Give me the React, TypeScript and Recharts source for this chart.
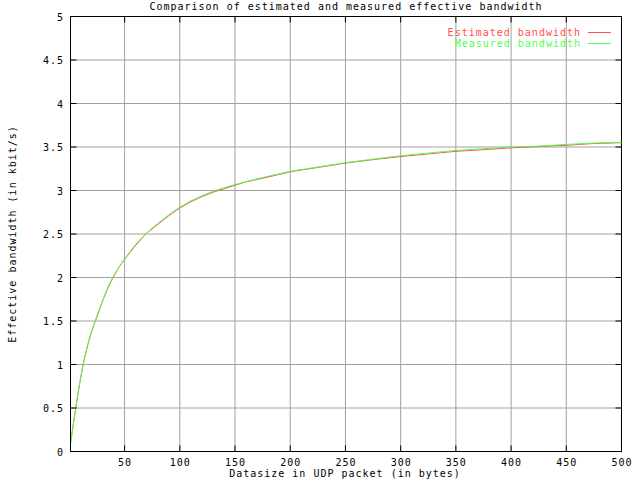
import React from 'react';
import { LineChart, Line, XAxis, YAxis, CartesianGrid, ReferenceArea, Legend } from 'recharts';

const titleText = 'Comparison of estimated and measured effective bandwidth';
const xLabelText = 'Datasize in UDP packet (in bytes)';
const yLabelText = 'Effective bandwidth (in kbit/s)';
const seriesNames = ['Estimated bandwidth', 'Measured bandwidth'];

const sizes = [1, 2, 3, 4, 5, 6, 7, 8, 10, 12, 14, 16, 18, 20, 22, 25, 28, 30, 33, 36, 40, 45, 50, 55, 60, 65, 70, 75, 80, 90, 100, 110, 120, 130, 140, 150, 160, 175, 200, 225, 250, 275, 300, 325, 350, 375, 400, 425, 450, 475, 500];
const estimated = [0.09, 0.18, 0.27, 0.36, 0.44, 0.52, 0.6, 0.68, 0.83, 0.97, 1.09, 1.19, 1.29, 1.37, 1.45, 1.55, 1.66, 1.73, 1.82, 1.91, 2.01, 2.12, 2.21, 2.29, 2.37, 2.44, 2.51, 2.56, 2.61, 2.71, 2.80, 2.87, 2.93, 2.98, 3.02, 3.06, 3.10, 3.14, 3.215, 3.265, 3.315, 3.355, 3.39, 3.42, 3.45, 3.47, 3.49, 3.505, 3.52, 3.54, 3.55];
const measured = [0.09, 0.17, 0.26, 0.35, 0.43, 0.52, 0.6, 0.69, 0.84, 0.97, 1.09, 1.20, 1.30, 1.38, 1.45, 1.56, 1.67, 1.73, 1.83, 1.92, 2.02, 2.12, 2.21, 2.30, 2.38, 2.45, 2.51, 2.57, 2.62, 2.72, 2.81, 2.88, 2.94, 2.99, 3.03, 3.07, 3.10, 3.15, 3.22, 3.27, 3.32, 3.36, 3.40, 3.43, 3.46, 3.48, 3.50, 3.51, 3.53, 3.545, 3.555];
const xTicks = [50, 100, 150, 200, 250, 300, 350, 400, 450, 500];
const yTicks = [0, 0.5, 1, 1.5, 2, 2.5, 3, 3.5, 4, 4.5, 5];

const data = sizes.map((s, i) => ({ size: s, estimated: estimated[i], measured: measured[i] }));

const FONT = '"DejaVu Sans Mono", "Liberation Mono", monospace';
const RED = '#ff5050';
const GREEN = '#50ff50';
const PLOT_LEFT = 70.5;
const PLOT_RIGHT = 621.5;
const PLOT_TOP = 16.5;
const PLOT_BOTTOM = 451.5;
const TICK = 6;

const textStyle = { fontFamily: FONT, fontSize: 10, letterSpacing: 1 } as const;

const XTick = (props: any) => {
  const { x, payload } = props;
  return (
    <g>
      <line x1={x} x2={x} y1={PLOT_BOTTOM} y2={PLOT_BOTTOM - TICK} stroke="#000" />
      <line x1={x} x2={x} y1={PLOT_TOP} y2={PLOT_TOP + TICK} stroke="#000" />
      <text x={x + 0.5} y={466} textAnchor="middle" fill="#000" style={textStyle}>{payload.value}</text>
    </g>
  );
};

const YTick = (props: any) => {
  const { y, payload } = props;
  return (
    <g>
      <line x1={PLOT_LEFT} x2={PLOT_LEFT + TICK} y1={y} y2={y} stroke="#000" />
      <line x1={PLOT_RIGHT} x2={PLOT_RIGHT - TICK} y1={y} y2={y} stroke="#000" />
      <text x={64} y={y + 4} textAnchor="end" fill="#000" style={textStyle}>{String(payload.value)}</text>
    </g>
  );
};

const YLabel = () => (
  <text x={16} y={234} transform="rotate(-90 16 234)" textAnchor="middle" fill="#000" style={textStyle}>{yLabelText}</text>
);

const XLabel = () => (
  <text x={345} y={477} textAnchor="middle" fill="#000" style={textStyle}>{xLabelText}</text>
);

const LegendContent = () => (
  <svg width={640} height={60} style={{ position: 'absolute', left: 0, top: 0, overflow: 'visible', pointerEvents: 'none' }}>
    <text x={581} y={36} textAnchor="end" fill={RED} style={textStyle}>{seriesNames[0]}</text>
    <line x1={588} x2={611} y1={32.5} y2={32.5} stroke={RED} />
    <text x={581} y={47} textAnchor="end" fill={GREEN} style={textStyle}>{seriesNames[1]}</text>
    <line x1={588} x2={611} y1={43.5} y2={43.5} stroke={GREEN} />
  </svg>
);

export default function App() {
  return (
    <div style={{ position: 'absolute', left: 0, top: 0, width: 640, height: 480, background: '#fff' }}>
      <LineChart
        width={640}
        height={480}
        data={data}
        margin={{ top: PLOT_TOP, right: 640 - PLOT_RIGHT, bottom: 0, left: 0.5 }}
      >
        <CartesianGrid stroke="#a0a0a0" strokeWidth={1} vertical horizontal />
        <XAxis
          dataKey="size"
          type="number"
          domain={[1, 500]}
          ticks={xTicks}
          height={480 - PLOT_BOTTOM}
          axisLine={{ stroke: '#000' }}
          tickLine={false}
          tick={<XTick />}
          interval={0}
          label={<XLabel />}
        />
        <YAxis
          type="number"
          domain={[0, 5]}
          ticks={yTicks}
          width={70}
          axisLine={{ stroke: '#000' }}
          tickLine={false}
          tick={<YTick />}
          interval={0}
          label={<YLabel />}
        />
        <ReferenceArea x1={1} x2={500} y1={0} y2={5} fill="none" fillOpacity={0} stroke="#000" strokeOpacity={1} strokeWidth={1} />
        <Legend
          content={<LegendContent />}
          wrapperStyle={{ position: 'absolute', left: 0, top: 0, width: 0, height: 0, overflow: 'visible' }}
        />
        <Line type="linear" dataKey="estimated" name={seriesNames[0]} stroke={RED} strokeWidth={1} dot={false} isAnimationActive={false} />
        <Line type="linear" dataKey="measured" name={seriesNames[1]} stroke={GREEN} strokeWidth={1} dot={false} isAnimationActive={false} />
      </LineChart>
      <svg width={640} height={20} style={{ position: 'absolute', left: 0, top: 0, pointerEvents: 'none' }}>
        <text x={346} y={10} textAnchor="middle" fill="#000" style={textStyle}>{titleText}</text>
      </svg>
    </div>
  );
}
